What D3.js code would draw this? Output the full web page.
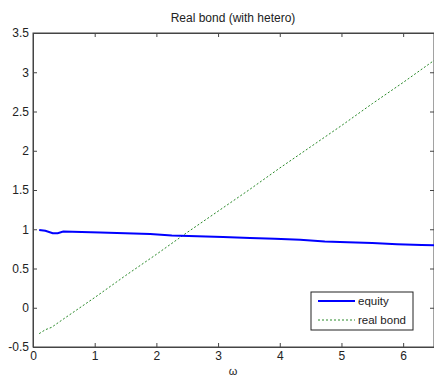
<!DOCTYPE html>
<html><head><meta charset="utf-8">
<script src="https://cdn.jsdelivr.net/npm/d3@7"></script>
<style>body{margin:0;background:#fff;}svg{display:block;}text{font-family:"Liberation Sans",Arial,sans-serif;}</style>
</head><body>
<svg id="c" width="434" height="377"></svg>
<script>
const title = "Real bond (with hetero)";
const xLabel = "ω";
const xTicks = [0,1,2,3,4,5,6];
const yTicks = [-0.5,0,0.5,1,1.5,2,2.5,3,3.5];
const equityX = [0.1,0.2,0.32,0.4,0.49,1.09,1.9,2.25,3.08,3.52,3.92,4.33,4.73,5.1,5.5,5.9,6.3,6.5];
const equityY = [0.99,0.98,0.95,0.95,0.97,0.96,0.94,0.92,0.90,0.89,0.88,0.866,0.845,0.834,0.824,0.81,0.80,0.795];
const bondX = [0.1,0.2,0.3,0.5,1,1.5,2,2.5,3,3.5,4,4.5,5,5.5,6,6.5];
const bondY = [-0.33,-0.28,-0.25,-0.14,0.13,0.41,0.68,0.96,1.23,1.50,1.78,2.05,2.32,2.60,2.87,3.15];
const legendNames = ["equity","real bond"];

const svg = d3.select("#c");
const L=33, R=434, T=33, B=347;
const x = d3.scaleLinear().domain([0,6.5]).range([L,R]);
const y = d3.scaleLinear().domain([-0.5,3.5]).range([B,T]);
const axCol = "#444";

svg.append("rect").attr("x",L).attr("y",T).attr("width",R-L).attr("height",B-T)
  .attr("fill","#fff").attr("stroke",axCol).attr("stroke-width",1);

const fmt = d => String(d);
const gb = svg.append("g").attr("transform",`translate(0,${B})`)
  .call(d3.axisBottom(x).tickValues(xTicks).tickFormat(fmt).tickSizeInner(-4).tickSizeOuter(0).tickPadding(3));
const gt = svg.append("g").attr("transform",`translate(0,${T})`)
  .call(d3.axisTop(x).tickValues(xTicks).tickFormat("").tickSizeInner(-4).tickSizeOuter(0));
const gl = svg.append("g").attr("transform",`translate(${L},0)`)
  .call(d3.axisLeft(y).tickValues(yTicks).tickFormat(fmt).tickSizeInner(-4).tickSizeOuter(0).tickPadding(4));
const gr = svg.append("g").attr("transform",`translate(${R},0)`)
  .call(d3.axisRight(y).tickValues(yTicks).tickFormat("").tickSizeInner(-4).tickSizeOuter(0));
[gb,gt,gl,gr].forEach(g=>{
  g.select(".domain").attr("stroke",axCol);
  g.selectAll(".tick line").attr("stroke",axCol);
  g.selectAll("text").attr("fill","#222").style("font-size","12px");
});
gb.selectAll("text").attr("dy","0.85em");

const line = d3.line().x(d=>x(d[0])).y(d=>y(d[1]));
const eq = equityX.map((v,i)=>[v,equityY[i]]);
const bd = bondX.map((v,i)=>[v,bondY[i]]);
svg.append("path").attr("d",line(bd)).attr("fill","none").attr("stroke","#2a8a2a")
  .attr("stroke-width",1).attr("stroke-dasharray","2,2");
svg.append("path").attr("d",line(eq)).attr("fill","none").attr("stroke","#0000ff").attr("stroke-width",2);

svg.append("text").attr("x",233).attr("y",22).attr("text-anchor","middle")
  .style("font-size","12px").attr("fill","#222").text(title);
svg.append("text").attr("x",233).attr("y",375).attr("text-anchor","middle")
  .style("font-size","11px").attr("fill","#222").text(xLabel);

const lg = svg.append("g");
lg.append("rect").attr("x",311).attr("y",292).attr("width",102).attr("height",38)
  .attr("fill","#fff").attr("stroke","#222").attr("stroke-width",1);
const lstyles = [{c:"#0000ff",w:2,d:null},{c:"#2a8a2a",w:1,d:"2,2"}];
legendNames.forEach((n,i)=>{
  const yy = 301 + i*19;
  lg.append("line").attr("x1",318).attr("x2",355).attr("y1",yy).attr("y2",yy)
    .attr("stroke",lstyles[i].c).attr("stroke-width",lstyles[i].w).attr("stroke-dasharray",lstyles[i].d);
  lg.append("text").attr("x",358).attr("y",yy+4).style("font-size","11.5px").attr("fill","#222").text(n);
});
</script>
</body></html>
